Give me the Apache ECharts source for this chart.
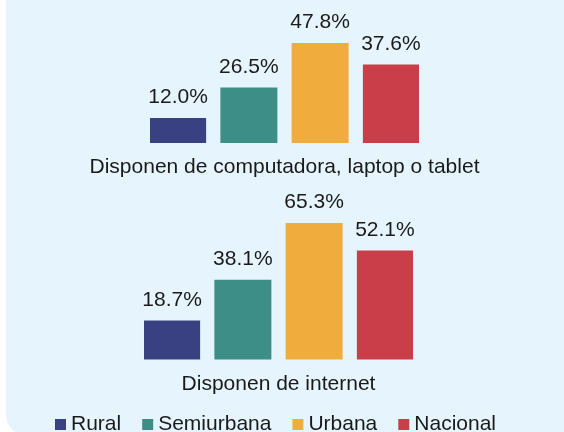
<!DOCTYPE html>
<html>
<head>
<meta charset="utf-8">
<script src="https://cdn.jsdelivr.net/npm/echarts@6/dist/echarts.min.js"></script>
<style>
html, body { margin: 0; padding: 0; background: #ffffff; }
#chart { width: 564px; height: 432px; }
</style>
</head>
<body>
<div id="chart"></div>
<script>
// grupos y zonas
var groups = ['Disponen de computadora, laptop o tablet', 'Disponen de internet'];
var zones = ['Rural', 'Semiurbana', 'Urbana', 'Nacional'];
var colors = ['#3a4183', '#3e8e88', '#f0ad3e', '#c93e48'];

// porcentajes por zona, uno por grupo
var computadora = [12.0, 26.5, 47.8, 37.6];
var internet = [18.7, 38.1, 65.3, 52.1];

var values = [computadora, internet];
var yMax = [60, 70];

var txt = '#1a1a1a';
var font = 'Liberation Sans, Arial, sans-serif';

var myChart = echarts.init(document.getElementById('chart'));

var grids = [
	{ left: 150, right: 145, top: 17.6, height: 125.4 },
	{ left: 144, right: 151, top: 213.2, height: 146.3 }
];

var xAxes = [], yAxes = [], series = [];
for (var g = 0; g < groups.length; g++) {
	xAxes.push({
		type: 'category',
		gridIndex: g,
		data: [groups[g]],
		axisLine: { show: false },
		axisTick: { show: false },
		axisLabel: { fontSize: 21, color: txt, fontFamily: font, margin: 14 }
	});
	yAxes.push({
		type: 'value',
		gridIndex: g,
		min: 0,
		max: yMax[g],
		show: false
	});
	for (var i = 0; i < zones.length; i++) {
		series.push({
			name: zones[i],
			type: 'bar',
			xAxisIndex: g,
			yAxisIndex: g,
			barWidth: 57,
			barGap: '25%',
			itemStyle: { color: colors[i] },
			label: {
				show: true,
				position: 'top',
				distance: 10,
				fontSize: 21,
				color: txt,
				fontFamily: font,
				formatter: function (p) { return p.value.toFixed(1) + '%'; }
			},
			data: [values[g][i]]
		});
	}
}

var option = {
	animation: false,
	graphic: [{
		type: 'rect',
		z: -10,
		shape: { x: 6, y: -30, width: 600, height: 465, r: [0, 0, 0, 20] },
		style: { fill: '#e6f5fd' }
	}],
	legend: {
		data: zones,
		left: 50,
		top: 409,
		itemWidth: 11,
		itemHeight: 11,
		itemGap: 21,
		icon: 'rect',
		textStyle: { fontSize: 21, color: txt, fontFamily: font }
	},
	grid: grids,
	xAxis: xAxes,
	yAxis: yAxes,
	series: series
};

myChart.setOption(option);
</script>
</body>
</html>
